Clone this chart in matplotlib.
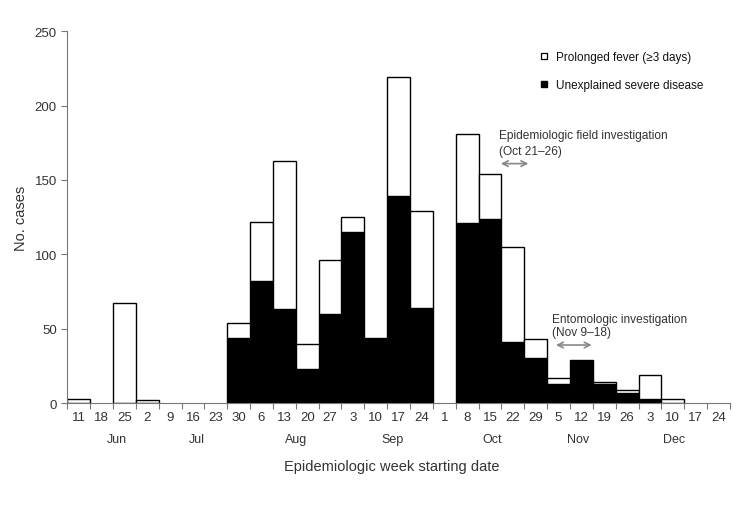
import numpy as np
import matplotlib
matplotlib.use("Agg")
import matplotlib.pyplot as plt
from matplotlib.lines import Line2D

plt.rcParams["font.family"] = ["Liberation Sans", "DejaVu Sans"]

week_labels = ["11", "18", "25", "2", "9", "16", "23", "30", "6", "13", "20", "27",
               "3", "10", "17", "24", "1", "8", "15", "22", "29", "5", "12", "19",
               "26", "3", "10", "17", "24"]
severe = [0, 0, 0, 0, 0, 0, 0, 44, 82, 63, 23, 60, 115, 43, 139, 64, 0, 121, 124,
          41, 30, 13, 28, 13, 7, 3, 0, 0, 0]
fever = [3, 0, 67, 2, 0, 0, 0, 10, 40, 100, 17, 36, 10, 1, 80, 65, 0, 60, 30, 64,
         13, 4, 1, 1, 2, 16, 3, 0, 0]
months = ["Jun", "Jul", "Aug", "Sep", "Oct", "Nov", "Dec"]
month_pos = [2.16, 5.69, 10.0, 14.23, 18.6, 22.36, 26.56]

txt = "#333333"
fig = plt.figure(figsize=(7.5, 5.1), dpi=100)
ax = fig.add_axes([0.0897, 0.2078, 0.8836, 0.7289])

x = np.arange(len(week_labels)) + 0.5
sev = np.array(severe)
fev = np.array(fever)
m = sev > 0
ax.bar(x[m], sev[m], width=1, color="black", edgecolor="black", linewidth=1)
m2 = fev > 0
ax.bar(x[m2], fev[m2], bottom=sev[m2], width=1, color="white",
       edgecolor="black", linewidth=1)

ax.set_xlim(0, len(week_labels))
ax.set_ylim(0, 250)
ax.set_yticks(range(0, 251, 50))
ax.set_xticks(np.arange(len(week_labels) + 1))
ax.set_xticklabels([])
ax.set_xticks(x, minor=True)
ax.set_xticklabels(week_labels, minor=True)
ax.tick_params(axis="x", which="minor", length=0, pad=6, labelsize=9.5, labelcolor=txt)
ax.tick_params(axis="x", which="major", length=4, color="#777777")
ax.tick_params(axis="y", length=4, color="#777777", labelsize=9.5, labelcolor=txt)
for s in ["top", "right"]:
    ax.spines[s].set_visible(False)
for s in ["left", "bottom"]:
    ax.spines[s].set_color("#777777")

for mo, p in zip(months, month_pos):
    ax.text(p, -24, mo, ha="center", va="center", fontsize=9, color=txt)
ax.text(len(week_labels) / 2 - 0.3, -42.5, "Epidemiologic week starting date",
        ha="center", va="center", fontsize=10.5, color=txt)
ax.set_ylabel("No. cases", fontsize=10.5, color=txt, labelpad=5)

# annotations
ax.text(18.9, 180, "Epidemiologic field investigation", ha="left", va="center",
        fontsize=8.6, color=txt)
ax.text(18.9, 169.5, "(Oct 21\u201326)", ha="left", va="center", fontsize=8.6, color=txt)
ax.annotate("", xy=(20.3, 161), xytext=(18.85, 161),
            arrowprops=dict(arrowstyle="<->", color="#888888", lw=1.2))
ax.text(21.2, 56.5, "Entomologic investigation", ha="left", va="center",
        fontsize=8.6, color=txt)
ax.text(21.2, 47.5, "(Nov 9\u201318)", ha="left", va="center", fontsize=8.6, color=txt)
ax.annotate("", xy=(23.07, 39), xytext=(21.26, 39),
            arrowprops=dict(arrowstyle="<->", color="#888888", lw=1.2))

handles = [
    Line2D([], [], marker="s", linestyle="None", markersize=5,
           markerfacecolor="white", markeredgecolor="black", markeredgewidth=0.9),
    Line2D([], [], marker="s", linestyle="None", markersize=5,
           markerfacecolor="black", markeredgecolor="black"),
]
leg = fig.legend(handles, ["Prolonged fever (\u22653 days)", "Unexplained severe disease"],
                 loc="upper left", bbox_to_anchor=(0.705, 0.918), frameon=False,
                 fontsize=8.5, handlelength=0.8, handletextpad=0.6, labelspacing=1.3)
for t in leg.get_texts():
    t.set_color("#111111")

fig.savefig("out.png", dpi=100)
